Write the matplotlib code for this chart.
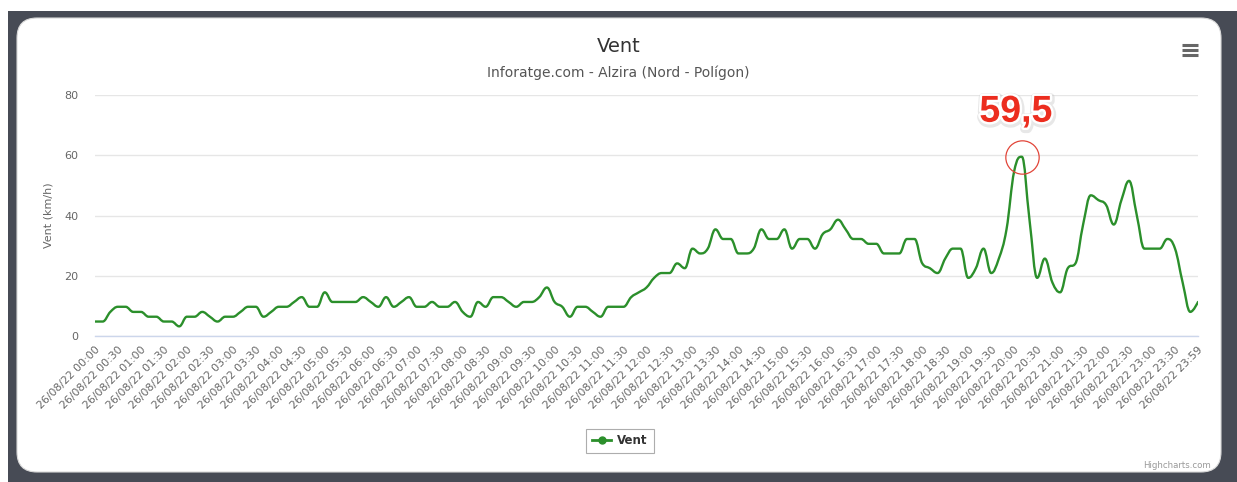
import numpy as np
import matplotlib
matplotlib.use("Agg")
import matplotlib.pyplot as plt
from matplotlib.path import Path
from matplotlib.patches import PathPatch, FancyBboxPatch, Rectangle
from matplotlib.lines import Line2D
import matplotlib.patheffects as pe

# ---------------- data ----------------
title = "Vent"
subtitle = "Inforatge.com - Alzira (Nord - Polígon)"
y_title = "Vent (km/h)"
series_name = "Vent"

times = [f"{h:02d}:{m:02d}" for h in range(24) for m in (0, 10, 20, 30, 40, 50)] + ["23:59"]
categories = ["26/08/22 " + t for t in times]

wind = [
    4.8, 4.8, 8.0, 9.7, 9.7, 8.0, 8.0, 6.4, 6.4, 4.8,
    4.8, 3.2, 6.4, 6.4, 8.0, 6.4, 4.8, 6.4, 6.4, 8.0,
    9.7, 9.7, 6.4, 8.0, 9.7, 9.7, 11.3, 12.9, 9.7, 9.7,
    14.5, 11.3, 11.3, 11.3, 11.3, 12.9, 11.3, 9.7, 12.9, 9.7,
    11.3, 12.9, 9.7, 9.7, 11.3, 9.7, 9.7, 11.3, 8.0, 6.4,
    11.3, 9.7, 12.9, 12.9, 11.3, 9.7, 11.3, 11.3, 12.9, 16.1,
    11.3, 9.7, 6.4, 9.7, 9.7, 8.0, 6.4, 9.7, 9.7, 9.7,
    12.9, 14.5, 16.1, 19.3, 20.9, 20.9, 24.1, 22.5, 29.0, 27.4,
    29.0, 35.4, 32.2, 32.2, 27.4, 27.4, 29.0, 35.4, 32.2, 32.2,
    35.4, 29.0, 32.2, 32.2, 29.0, 33.8, 35.4, 38.6, 35.4, 32.2,
    32.2, 30.6, 30.6, 27.4, 27.4, 27.4, 32.2, 32.2, 24.1, 22.5,
    20.9, 25.7, 29.0, 29.0, 19.3, 22.5, 29.0, 20.9, 25.7, 35.4,
    54.7, 59.5, 38.6, 19.3, 25.7, 17.7, 14.5, 22.5, 24.1, 37.0,
    46.7, 45.1, 43.5, 37.0, 45.1, 51.5, 40.2, 29.0, 29.0, 29.0,
    32.2, 29.0, 17.7, 8.0, 11.3,
]
y_ticks = [0, 20, 40, 60, 80]
label_step = 3

# ---------------- helpers ----------------
W, H = 1237, 482


def fx(px):
    return px / W


def fy(py):
    return 1 - py / H


def spline_path(xs, ys, smoothing=1.5):
    """Highcharts-style spline through the points (cubic Bezier)."""
    n = len(xs)
    denom = smoothing + 1
    lc = [(xs[i], ys[i]) for i in range(n)]
    rc = [(xs[i], ys[i]) for i in range(n)]
    for i in range(1, n - 1):
        px, py = xs[i], ys[i]
        lx, ly = xs[i - 1], ys[i - 1]
        nx, ny = xs[i + 1], ys[i + 1]
        lcx = (smoothing * px + lx) / denom
        lcy = (smoothing * py + ly) / denom
        rcx = (smoothing * px + nx) / denom
        rcy = (smoothing * py + ny) / denom
        if rcx != lcx:
            corr = ((rcy - lcy) * (rcx - px)) / (rcx - lcx) + py - rcy
            lcy += corr
            rcy += corr
        if lcy > ly and lcy > py:
            lcy = max(ly, py)
            rcy = 2 * py - lcy
        elif lcy < ly and lcy < py:
            lcy = min(ly, py)
            rcy = 2 * py - lcy
        if rcy > ny and rcy > py:
            rcy = max(ny, py)
            lcy = 2 * py - rcy
        elif rcy < ny and rcy < py:
            rcy = min(ny, py)
            lcy = 2 * py - rcy
        lc[i] = (lcx, lcy)
        rc[i] = (rcx, rcy)
    verts = [(xs[0], ys[0])]
    codes = [Path.MOVETO]
    for i in range(1, n):
        verts += [rc[i - 1], lc[i], (xs[i], ys[i])]
        codes += [Path.CURVE4] * 3
    return Path(verts, codes)


# ---------------- figure ----------------
plt.rcParams['font.family'] = ['DejaVu Sans']
fig = plt.figure(figsize=(W / 100, H / 100), dpi=100)
fig.patch.set_facecolor('white')

# dark frame + white rounded card
fig.add_artist(Rectangle((fx(8), 0), 1 - fx(8), fy(11), transform=fig.transFigure,
                         facecolor='#474b55', edgecolor='none', zorder=-10))
fig.add_artist(FancyBboxPatch((17, 10), 1204, 454,
                              boxstyle='round,pad=0,rounding_size=20',
                              transform=None, facecolor='white', edgecolor='#d8d8d8',
                              linewidth=0.8, zorder=-9))

ax = fig.add_axes([fx(95), fy(336), fx(1198) - fx(95), fy(95) - fy(336)])
ax.set_facecolor('none')

x = np.arange(len(wind))
line_color = '#2b8f2b'
patch = PathPatch(spline_path(x.astype(float), np.array(wind, dtype=float)),
                  facecolor='none', edgecolor=line_color, linewidth=1.7,
                  capstyle='round', joinstyle='round', zorder=3)
ax.add_patch(patch)

ax.set_xlim(0, len(wind) - 1)
ax.set_ylim(y_ticks[0], y_ticks[-1])
ax.set_yticks(y_ticks)
ax.set_yticklabels([str(v) for v in y_ticks], fontsize=8, color='#666666')
ax.tick_params(axis='y', length=0, pad=12)
ax.grid(axis='y', color='#e6e6e6', linewidth=1)
ax.set_axisbelow(True)
for s in ('top', 'right', 'left'):
    ax.spines[s].set_visible(False)
ax.spines['bottom'].set_color('#ccd6eb')
ax.spines['bottom'].set_linewidth(1)

tick_idx = list(range(0, len(categories), label_step))
if tick_idx[-1] != len(categories) - 1:
    tick_idx.append(len(categories) - 1)
ax.set_xticks(tick_idx)
ax.set_xticklabels([categories[i] for i in tick_idx], rotation=45, ha='right',
                   va='top', rotation_mode='anchor', fontsize=7.8, color='#666666')
ax.tick_params(axis='x', length=0, pad=6)

ax.set_ylabel(y_title, fontsize=8, color='#666666', labelpad=8)

# peak annotation
imax = int(np.argmax(wind))
vmax = wind[imax]
ax.plot([imax], [vmax], marker='o', markersize=24, markerfacecolor='none',
        markeredgecolor='#e2463a', markeredgewidth=0.9, zorder=4)
ax.annotate(f"{vmax:.1f}".replace('.', ','), xy=(imax, vmax), xytext=(-6, 45),
            textcoords='offset pixels', ha='center', va='center',
            fontsize=27, fontweight='bold', color='#ec2d1f',
            family=['Liberation Sans', 'DejaVu Sans'],
            path_effects=[pe.Stroke(linewidth=6, foreground='#bbbbbb', alpha=0.35, offset=(0.5, -1)),
                          pe.Stroke(linewidth=3.5, foreground='white'), pe.Normal()],
            zorder=5)

# titles
fig.text(0.5, fy(46), title, ha='center', va='center', fontsize=14, color='#333333')
fig.text(0.5, fy(73), subtitle, ha='center', va='center', fontsize=10, color='#555555')

# legend
handle = Line2D([], [], color=line_color, linewidth=2, marker='o', markersize=5)
leg = fig.legend([handle], [series_name], loc='center', bbox_to_anchor=(fx(620), fy(441)),
                 frameon=True, fancybox=False, edgecolor='#999999', handlelength=1.6,
                 handletextpad=0.5, borderpad=0.5, prop={'weight': 'bold', 'size': 8.5})
leg.get_frame().set_linewidth(0.8)
for t in leg.get_texts():
    t.set_color('#333333')

# hamburger menu
for py in (45, 50, 55):
    fig.add_artist(Line2D([fx(1182), fx(1198)], [fy(py), fy(py)], transform=fig.transFigure,
                          color='#666666', linewidth=2.2, solid_capstyle='butt'))

# credits
fig.text(fx(1211), fy(466), "Highcharts.com", ha='right', va='center', fontsize=6.2, color='#999999')

fig.savefig('out.png', dpi=100)
